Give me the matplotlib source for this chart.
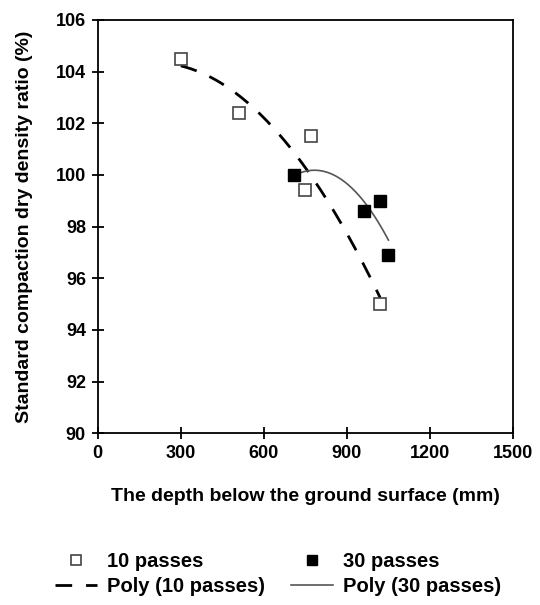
import numpy as np
import matplotlib.pyplot as plt

plt.rcParams['font.family'] = ['Liberation Sans', 'DejaVu Sans']
plt.rcParams['font.weight'] = 'bold'
plt.rcParams['axes.labelweight'] = 'bold'

# data
depth_10 = [300, 510, 770, 750, 1020]
ratio_10 = [104.5, 102.4, 101.5, 99.4, 95.0]
depth_30 = [710, 960, 1020, 1050]
ratio_30 = [100.0, 98.6, 99.0, 96.9]

xticks = [0, 300, 600, 900, 1200, 1500]
yticks = [90, 92, 94, 96, 98, 100, 102, 104, 106]

fig = plt.figure(figsize=(5.4, 6.05), dpi=100)
ax = fig.add_axes([0.181, 0.284, 0.769, 0.683])

l1, = ax.plot(depth_10, ratio_10, 's', ms=9, mfc='white', mec='#444444', mew=1.2,
              label='10 passes', zorder=3)
l2, = ax.plot(depth_30, ratio_30, 's', ms=9, mfc='black', mec='black',
              label='30 passes', zorder=3)

# polynomial trendlines (order 2) fitted to the points
c10 = np.polyfit(depth_10, ratio_10, 2)
xs10 = np.linspace(min(depth_10), max(depth_10), 200)
l3, = ax.plot(xs10, np.polyval(c10, xs10), color='black', lw=2,
              dashes=(6, 5), label='Poly (10 passes)')
c30 = np.polyfit(depth_30, ratio_30, 2)
xs30 = np.linspace(min(depth_30), max(depth_30), 200)
l4, = ax.plot(xs30, np.polyval(c30, xs30), color='#555555', lw=1.2,
              label='Poly (30 passes)')

ax.set_xlim(0, 1500)
ax.set_ylim(90, 106)
ax.set_xticks(xticks)
ax.set_yticks(yticks)
ax.tick_params(direction='inout', length=9, width=1.3, labelsize=13, pad=4)
for s in ax.spines.values():
    s.set_linewidth(1.3)

ax.set_xlabel('The depth below the ground surface (mm)', fontsize=14, labelpad=19)
ax.set_ylabel('Standard compaction dry density ratio (%)', fontsize=14, labelpad=16)

fig.legend(handles=[l1, l3, l2, l4], loc='lower center', bbox_to_anchor=(0.515, -0.015),
           ncol=2, frameon=False, fontsize=14.5, handlelength=2.1,
           columnspacing=1.3, handletextpad=0.5, labelspacing=0.3, markerscale=0.75)

fig.savefig('out.png', dpi=100)
